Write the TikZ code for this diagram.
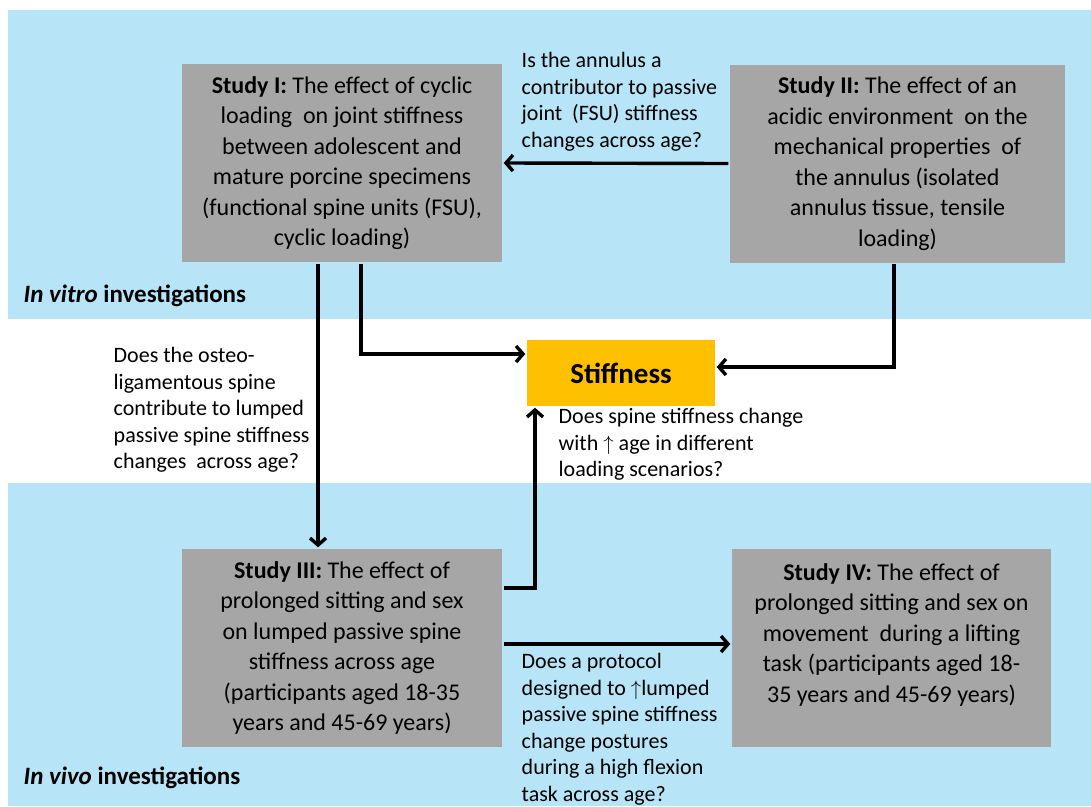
\documentclass[tikz,border=0pt]{standalone}
\usepackage{fontspec}
\setmainfont{Carlito}
\usetikzlibrary{arrows.meta}
\definecolor{bandblue}{RGB}{183,229,247}
\definecolor{boxgray}{RGB}{166,166,166}
\definecolor{stiffgold}{RGB}{255,192,0}

\begin{document}
\begin{tikzpicture}[x=1pt, y=-1pt, >={Straight Barb[length=7pt,width=16pt]}, line width=3.4pt,
		studybox/.style={fill=boxgray, minimum width=320pt, minimum height=198pt, align=center, inner sep=0pt, font=\fontsize{24}{30.5}\selectfont},
		question/.style={anchor=north west, align=left, inner sep=0pt, font=\fontsize{22}{26.5}\selectfont},
		bandlabel/.style={anchor=west, inner sep=0pt, font=\fontsize{25}{28}\selectfont\bfseries}]
	\useasboundingbox (0,0) rectangle (1091,806);
	
	% === 背景：体外 / 体内 ===
	\fill[bandblue] (8,10) rectangle (1091,319);
	\fill[bandblue] (8,483) rectangle (1091,806);
	\node[bandlabel] (vitro) at (22,296) {\textit{In vitro} investigations};
	\node[bandlabel] (vivo) at (22,778) {\textit{In vivo} investigations};
	
	% === 四项研究 ===
	\node[studybox] (s1) at (342,163) {\textbf{Study I:} The effect of cyclic\\ loading \ on joint stiffness\\ between adolescent and\\ mature porcine specimens\\ (functional spine units (FSU),\\ cyclic loading)};
	\node[studybox, minimum width=335pt] (s2) at (897.5,163.5) {\textbf{Study II:} The effect of an\\ acidic environment \ on the\\ mechanical properties \ of\\ the annulus (isolated\\ annulus tissue, tensile\\ loading)};
	\node[studybox] (s3) at (342,648) {\textbf{Study III:} The effect of\\ prolonged sitting and sex\\ on lumped passive spine\\ stiffness across age\\ (participants aged 18-35\\ years and 45-69 years)};
	\node[studybox, minimum width=319pt] (s4) at (891.5,648) {\textbf{Study IV:} The effect of\\ prolonged sitting and sex on\\ movement \ during a lifting\\ task (participants aged 18-\\ 35 years and 45-69 years)\\ \phantom{x}};
	
	% === 结果 ===
	\node[fill=stiffgold, minimum width=188pt, minimum height=66pt, font=\fontsize{29}{32}\selectfont\bfseries] (stiff) at (621,373) {Stiffness};
	
	% 连线
	\draw[->] (s2.west) -- (s1.east);
	\draw[->] ([xshift=19pt]s1.south) |- ([yshift=19pt]stiff.west);
	\draw[->] ([xshift=-24pt]s1.south) -- ([xshift=-24pt]s3.north);
	\draw[->] ([xshift=-3.5pt]s2.south) |- ([yshift=6pt]stiff.east);
	\draw[->] ([yshift=60pt]s3.east) -| ([xshift=-86pt]stiff.south);
	\draw[->] ([yshift=4pt]s3.east) -- ([yshift=4pt]s4.west);
	
	% 研究问题
	\node[question] (q1) at (520,51) {Is the annulus a\\ contributor to passive\\ joint \ (FSU) stiffness\\ changes across age?};
	\node[question] (q2) at (112,346) {Does the osteo-\\ ligamentous spine\\ contribute to lumped\\ passive spine stiffness\\ changes \ across age?};
	\node[question] (q3) at (557,407) {Does spine stiffness change\\ with $\uparrow$ age in different\\ loading scenarios?};
	\node[question] (q4) at (520,652) {Does a protocol\\ designed to $\uparrow$lumped\\ passive spine stiffness\\ change postures\\ during a high flexion\\ task across age?};
\end{tikzpicture}
\end{document}
